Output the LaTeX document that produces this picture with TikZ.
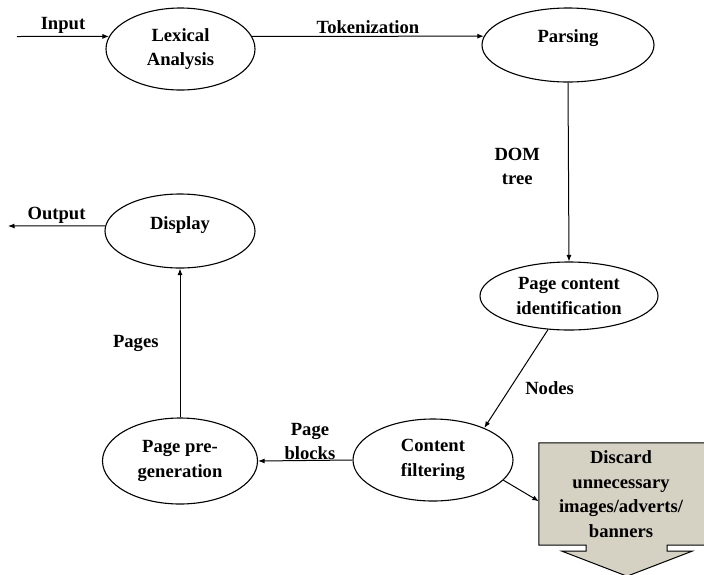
\documentclass[tikz,border=0pt]{standalone}
\usepackage{fontspec}
\setmainfont{Liberation Serif}
\usetikzlibrary{shapes.geometric,arrows.meta,backgrounds}
\definecolor{discardgrey}{RGB}{213,210,196}
\tikzset{
  stage/.style={draw, ellipse, line width=1.1pt, inner sep=0pt, align=center,
    font=\fontsize{18.6}{24.5}\selectfont\bfseries},
  flow/.style={line width=1pt, -{Latex[length=6.5pt,width=5pt]}},
  tag/.style={font=\fontsize{18.6}{24.5}\selectfont\bfseries, align=center, inner sep=2pt}
}
\begin{document}
\begin{tikzpicture}[x=1pt,y=-1pt]
\useasboundingbox (0,0) rectangle (704,574);
\node[stage, minimum width=149pt, minimum height=82pt] (lex) at (180.5,49) {Lexical\\Analysis};
\node[stage, minimum width=172pt, minimum height=74pt, text depth=18pt] (parse) at (568,45) {Parsing};
\node[stage, minimum width=178pt, minimum height=68pt] (pci) at (569,296) {Page content\\identification};
\node[stage, minimum width=160pt, minimum height=82pt] (cf) at (433,460) {Content\\filtering};
\node[stage, minimum width=155pt, minimum height=86pt] (pre) at (180,461) {Page pre-\\generation};
\node[stage, minimum width=150pt, minimum height=74pt, text depth=15pt] (disp) at (180,231) {Display};
\node[tag, inner sep=0pt, minimum width=164pt, minimum height=102pt] (discard) at (621,494)
  {Discard\\unnecessary\\images/adverts/\\banners};
\coordinate (in) at (17,36.5);
\coordinate (out) at (8,226);

\begin{scope}[on background layer]
\filldraw[fill=discardgrey, line width=1pt] (discard.south west) -- (discard.north west)
  -- ([xshift=10pt]discard.north east) -- ([xshift=10pt]discard.south east)
  -- ([xshift=46pt]discard.south) -- ++(0,6) -- ++(25,0) -- ++(-65,25) -- ++(-65,-25)
  -- ++(24,0) -- ++(0,-6) -- cycle;
\end{scope}

\draw[flow] (in) -- (lex.170) node[tag, midway, above] {Input};
\draw[flow] (lex.10) -- (parse.174) node[tag, midway, above] {Tokenization};
\draw[flow] (parse.south) -- (pci.north) node[tag, pos=0.47, left=26pt] {DOM\\tree};
\draw[flow] (pci.238) -- (cf.32) node[tag, pos=0.6, right=13pt] {Nodes};
\draw[flow] (cf.344) -- (discard.185);
\draw[flow] (cf.west) -- (pre.east) node[tag, pos=0.45, above=0pt, inner sep=0pt] {Page\\blocks};
\draw[flow] (pre.north) -- (disp.south) node[tag, midway, left=19pt] {Pages};
\draw[flow] (disp.176) -- (out) node[tag, midway, above] {Output};
\end{tikzpicture}
\end{document}
